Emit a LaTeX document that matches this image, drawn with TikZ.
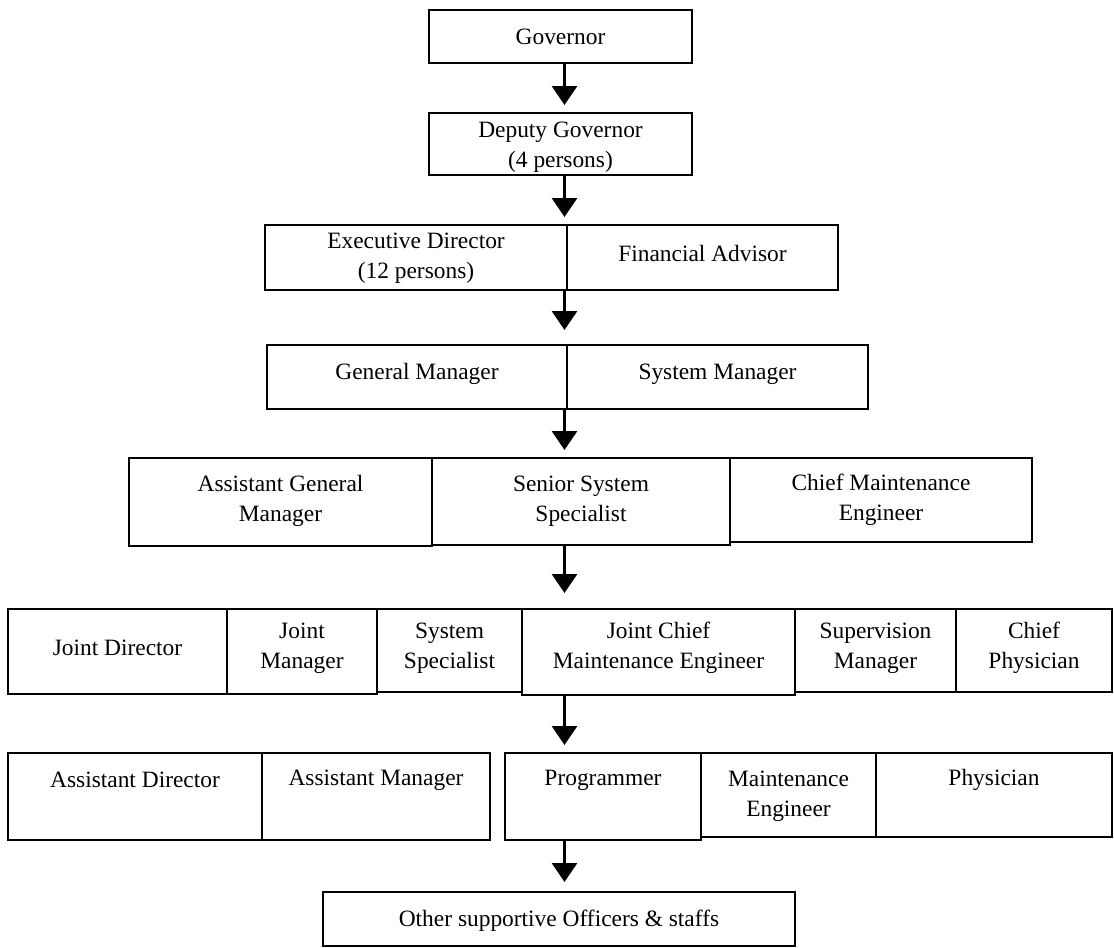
\documentclass[tikz,border=0pt]{standalone}
\usepackage{fontspec}
\setmainfont{Liberation Serif}
\usetikzlibrary{arrows.meta}
\tikzset{
  obox/.style={draw=black, line width=2bp, rectangle, inner sep=0pt, outer sep=0pt},
  lbl/.style={font=\fontsize{23.5}{30}\selectfont, align=center, inner sep=0pt},
  arr/.style={line width=3bp, -{Triangle[width=25bp,length=19bp]}},
}
\newcommand\mkbox[5]{\node[obox, minimum width={(#4-#2)*1bp}, minimum height={(#5-#3)*1bp}] (#1) at ({(#2+#4)/2},{-(#3+#5)/2}) {};}
\begin{document}
\begin{tikzpicture}[x=1bp,y=1bp]
\useasboundingbox (0,0) rectangle (1114,-948);
% row 1-2
\mkbox{gov}{429}{10}{692}{63}
\mkbox{dep}{429}{113}{692}{175}
% row 3
\mkbox{exe}{265}{225}{567}{290}
\mkbox{fin}{567}{225}{838}{290}
% row 4
\mkbox{gm}{267}{345}{567}{409}
\mkbox{sm}{567}{345}{868}{409}
% row 5
\mkbox{agm}{129}{458}{432}{546}
\mkbox{sss}{432}{458}{730}{545}
\mkbox{cme}{730}{458}{1032}{542}
% row 6
\mkbox{jd}{8}{609}{227}{694}
\mkbox{jm}{227}{609}{377}{694}
\mkbox{ss}{377}{609}{522}{692}
\mkbox{jcme}{522}{609}{795}{695}
\mkbox{supm}{795}{609}{956}{692}
\mkbox{cp}{956}{609}{1112}{692}
% row 7
\mkbox{ad}{8}{753}{262}{840}
\mkbox{am}{262}{753}{490}{840}
\mkbox{prog}{505}{753}{701}{840}
\mkbox{me}{701}{753}{876}{837}
\mkbox{phys}{876}{753}{1112}{837}
% row 8
\mkbox{oth}{323}{892}{795}{946}

% labels
\node[lbl] (tgov) at (560.5,-37) {Governor};
\node[lbl] (tdep) at (560.5,-147) {Deputy Governor\\(4 persons)};
\node[lbl] (texe) at (416,-258) {Executive Director\\(12 persons)};
\node[lbl] (tfin) at (702.5,-253) {Financial Advisor};
\node[lbl] (tgm) at (417,-374) {General Manager};
\node[lbl] (tsm) at (717.5,-374) {System Manager};
\node[lbl] (tagm) at (280.5,-501) {Assistant General\\Manager};
\node[lbl] (tsss) at (581,-501) {Senior System\\Specialist};
\node[lbl] (tcme) at (881,-500) {Chief Maintenance\\Engineer};
\node[lbl] (tjd) at (117.5,-648) {Joint Director};
\node[lbl] (tjm) at (302,-648) {Joint\\Manager};
\node[lbl] (tss) at (449.5,-648) {System\\Specialist};
\node[lbl] (tjcme) at (658.5,-648) {Joint Chief\\Maintenance Engineer};
\node[lbl] (tsupm) at (875.5,-648) {Supervision\\Manager};
\node[lbl] (tcp) at (1034,-648) {Chief\\Physician};
\node[lbl] (tad) at (135,-780) {Assistant Director};
\node[lbl] (tam) at (376,-780) {Assistant Manager};
\node[lbl] (tprog) at (603,-780) {Programmer};
\node[lbl] (tme) at (788.5,-796) {Maintenance\\Engineer};
\node[lbl] (tphys) at (994,-780) {Physician};
\node[lbl] (toth) at (559,-921) {Other supportive Officers \& staffs};

% arrows
\coordinate (ax) at (564.5,0);
\draw[arr, shorten >=8bp] (gov.south -| ax) -- (dep.north -| ax);
\draw[arr, shorten >=8bp] (dep.south -| ax) -- (exe.north -| ax);
\draw[arr, shorten >=15bp] (exe.south -| ax) -- (gm.north -| ax);
\draw[arr, shorten >=8bp] (gm.south -| ax) -- (sss.north -| ax);
\draw[arr, shorten >=16bp] (sss.south -| ax) -- (jcme.north -| ax);
\draw[arr, shorten >=8bp] (jcme.south -| ax) -- (prog.north -| ax);
\draw[arr, shorten >=10bp] (prog.south -| ax) -- (oth.north -| ax);
\end{tikzpicture}
\end{document}
